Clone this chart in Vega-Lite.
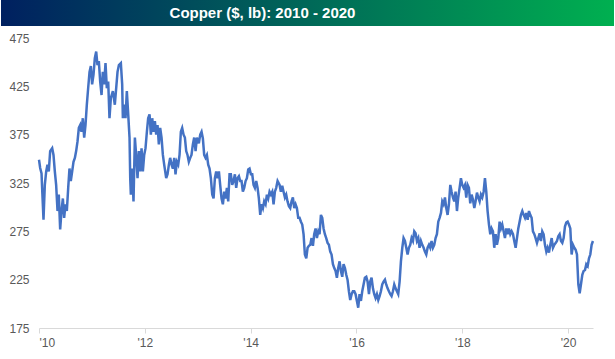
{
  "$schema": "https://vega.github.io/schema/vega-lite/v6.json",
  "background": "white",
  "padding": {"left": 1, "right": 1, "top": 0, "bottom": 0},
  "config": {"view": {"stroke": null}, "font": "Liberation Sans"},
  "spacing": 6,
  "vconcat": [
    {
      "width": 575,
      "height": 26,
      "data": {"values": [{"label": "Copper ($, lb): 2010 - 2020"}]},
      "layer": [
        {
          "mark": {"type": "rect", "color": {"gradient": "linear", "x1": 0, "x2": 1, "y1": 0, "y2": 0, "stops": [{"offset": 0, "color": "#002060"}, {"offset": 1, "color": "#00b050"}]}},
          "encoding": {"x": {"value": -38}, "x2": {"value": "width"}, "y": {"value": 0}, "y2": {"value": "height"}}
        },
        {
          "mark": {"type": "text", "color": "white", "fontWeight": "bold", "fontSize": 15, "font": "Liberation Sans", "baseline": "middle", "align": "center", "dx": -64},
          "encoding": {"text": {"field": "label"}, "y": {"value": 13}}
        }
      ]
    },
    {
      "width": 554,
      "height": 290,
      "data": {"values": [
        {"t":2010.000,"v":349},{"t":2010.022,"v":340.5},{"t":2010.048,"v":335},{"t":2010.059,"v":320},{"t":2010.085,"v":287},{"t":2010.110,"v":323},{"t":2010.136,"v":337},{"t":2010.160,"v":344},{"t":2010.185,"v":337},{"t":2010.211,"v":358},{"t":2010.249,"v":361},{"t":2010.274,"v":354},{"t":2010.299,"v":337},{"t":2010.324,"v":323},{"t":2010.350,"v":296},{"t":2010.374,"v":313},{"t":2010.400,"v":277},{"t":2010.425,"v":296},{"t":2010.451,"v":309},{"t":2010.475,"v":289},{"t":2010.501,"v":303},{"t":2010.526,"v":296},{"t":2010.552,"v":320},{"t":2010.576,"v":340},{"t":2010.601,"v":327},{"t":2010.627,"v":337},{"t":2010.652,"v":347},{"t":2010.678,"v":351},{"t":2010.702,"v":358},{"t":2010.728,"v":368},{"t":2010.753,"v":382},{"t":2010.779,"v":385},{"t":2010.803,"v":378},{"t":2010.828,"v":392},{"t":2010.854,"v":372},{"t":2010.879,"v":385},{"t":2010.904,"v":406},{"t":2010.929,"v":423},{"t":2010.955,"v":440},{"t":2010.980,"v":446},{"t":2011.004,"v":427},{"t":2011.030,"v":437},{"t":2011.055,"v":454},{"t":2011.081,"v":461},{"t":2011.105,"v":447},{"t":2011.131,"v":451},{"t":2011.156,"v":430},{"t":2011.182,"v":416},{"t":2011.206,"v":440},{"t":2011.231,"v":427},{"t":2011.257,"v":449},{"t":2011.282,"v":423},{"t":2011.308,"v":430},{"t":2011.332,"v":392},{"t":2011.358,"v":413},{"t":2011.396,"v":420},{"t":2011.433,"v":406},
        {"t":2011.484,"v":440},{"t":2011.510,"v":447},{"t":2011.547,"v":449},{"t":2011.572,"v":427},{"t":2011.585,"v":392},{"t":2011.610,"v":406},{"t":2011.635,"v":392},{"t":2011.660,"v":420},{"t":2011.686,"v":396},{"t":2011.711,"v":372},{"t":2011.724,"v":330},{"t":2011.736,"v":313},{"t":2011.761,"v":340},{"t":2011.786,"v":306},{"t":2011.812,"v":372},{"t":2011.836,"v":354},{"t":2011.862,"v":330},{"t":2011.887,"v":358},{"t":2011.913,"v":337},{"t":2011.938,"v":361},{"t":2011.963,"v":337},{"t":2011.988,"v":354},{"t":2012.013,"v":361},{"t":2012.039,"v":378},{"t":2012.063,"v":392},{"t":2012.089,"v":396},{"t":2012.114,"v":375},{"t":2012.140,"v":392},{"t":2012.164,"v":378},{"t":2012.190,"v":389},{"t":2012.215,"v":375},{"t":2012.240,"v":385},{"t":2012.265,"v":365},{"t":2012.290,"v":382},{"t":2012.316,"v":372},{"t":2012.341,"v":354},{"t":2012.366,"v":344},{"t":2012.404,"v":330},{"t":2012.429,"v":334},{"t":2012.455,"v":344},{"t":2012.479,"v":351},{"t":2012.505,"v":344},{"t":2012.530,"v":340},{"t":2012.556,"v":351},{"t":2012.580,"v":334},{"t":2012.605,"v":347},{"t":2012.631,"v":344},{"t":2012.656,"v":354},{"t":2012.681,"v":378},{"t":2012.706,"v":382},{"t":2012.732,"v":375},{"t":2012.757,"v":372},{"t":2012.782,"v":358},{"t":2012.807,"v":354},{"t":2012.832,"v":347},{"t":2012.858,"v":351},{"t":2012.882,"v":354},{"t":2012.908,"v":365},{"t":2012.933,"v":372},{"t":2012.959,"v":358},{"t":2012.984,"v":372},
        {"t":2013.021,"v":366},{"t":2013.047,"v":375},{"t":2013.072,"v":378},{"t":2013.097,"v":371},{"t":2013.122,"v":354},{"t":2013.147,"v":351},{"t":2013.173,"v":354},{"t":2013.198,"v":344},{"t":2013.223,"v":340},{"t":2013.248,"v":330},{"t":2013.274,"v":313},{"t":2013.299,"v":309},{"t":2013.324,"v":330},{"t":2013.349,"v":337},{"t":2013.374,"v":330},{"t":2013.400,"v":337},{"t":2013.424,"v":323},{"t":2013.450,"v":309},{"t":2013.475,"v":303},{"t":2013.501,"v":316},{"t":2013.525,"v":309},{"t":2013.551,"v":320},{"t":2013.576,"v":306},{"t":2013.601,"v":334},{"t":2013.626,"v":334},{"t":2013.651,"v":323},{"t":2013.677,"v":327},{"t":2013.702,"v":334},{"t":2013.727,"v":320},{"t":2013.752,"v":330},{"t":2013.778,"v":332},{"t":2013.803,"v":327},{"t":2013.828,"v":327},{"t":2013.853,"v":316},{"t":2013.878,"v":320},{"t":2013.904,"v":327},{"t":2013.929,"v":330},{"t":2013.954,"v":339},{"t":2013.979,"v":340},{"t":2014.005,"v":334},{"t":2014.030,"v":334},{"t":2014.055,"v":323},{"t":2014.080,"v":320},{"t":2014.105,"v":327},{"t":2014.131,"v":320},{"t":2014.155,"v":309},{"t":2014.181,"v":292},{"t":2014.206,"v":303},{"t":2014.232,"v":299},{"t":2014.256,"v":306},{"t":2014.282,"v":303},{"t":2014.307,"v":313},{"t":2014.332,"v":309},{"t":2014.357,"v":316},{"t":2014.382,"v":313},{"t":2014.408,"v":316},{"t":2014.433,"v":303},{"t":2014.458,"v":316},{"t":2014.483,"v":320},{"t":2014.509,"v":327},
        {"t":2014.547,"v":323},{"t":2014.571,"v":316},{"t":2014.597,"v":322},{"t":2014.622,"v":316},{"t":2014.648,"v":310},{"t":2014.672,"v":313},{"t":2014.697,"v":306},{"t":2014.723,"v":301},{"t":2014.748,"v":299},{"t":2014.773,"v":306},{"t":2014.798,"v":310},{"t":2014.824,"v":299},{"t":2014.849,"v":303},{"t":2014.874,"v":299},{"t":2014.899,"v":289},{"t":2014.924,"v":289},{"t":2014.950,"v":285},{"t":2014.975,"v":282},{"t":2015.000,"v":272},{"t":2015.025,"v":251},{"t":2015.051,"v":247},{"t":2015.076,"v":258},{"t":2015.101,"v":260},{"t":2015.126,"v":261},{"t":2015.151,"v":268},{"t":2015.177,"v":260},{"t":2015.201,"v":272},{"t":2015.227,"v":278},{"t":2015.252,"v":268},{"t":2015.278,"v":275},{"t":2015.302,"v":272},{"t":2015.328,"v":292},{"t":2015.353,"v":289},{"t":2015.378,"v":278},{"t":2015.403,"v":272},{"t":2015.428,"v":268},{"t":2015.454,"v":263},{"t":2015.479,"v":261},{"t":2015.504,"v":254},{"t":2015.529,"v":251},{"t":2015.555,"v":241},{"t":2015.580,"v":237},{"t":2015.605,"v":234},{"t":2015.630,"v":227},{"t":2015.655,"v":237},{"t":2015.681,"v":244},{"t":2015.706,"v":234},{"t":2015.731,"v":228},{"t":2015.756,"v":241},{"t":2015.782,"v":237},{"t":2015.807,"v":230},{"t":2015.831,"v":225},{"t":2015.857,"v":213},{"t":2015.882,"v":204},{"t":2015.908,"v":210},{"t":2015.932,"v":213},{"t":2015.958,"v":213},{"t":2015.983,"v":210},{"t":2016.008,"v":203},
        {"t":2016.033,"v":196},{"t":2016.058,"v":210},{"t":2016.084,"v":203},{"t":2016.109,"v":213},{"t":2016.134,"v":220},{"t":2016.159,"v":227},{"t":2016.185,"v":228},{"t":2016.210,"v":223},{"t":2016.236,"v":210},{"t":2016.260,"v":223},{"t":2016.285,"v":227},{"t":2016.311,"v":216},{"t":2016.336,"v":210},{"t":2016.361,"v":206},{"t":2016.386,"v":210},{"t":2016.412,"v":204},{"t":2016.437,"v":208},{"t":2016.462,"v":213},{"t":2016.487,"v":220},{"t":2016.512,"v":223},{"t":2016.538,"v":225},{"t":2016.562,"v":220},{"t":2016.588,"v":216},{"t":2016.613,"v":213},{"t":2016.639,"v":210},{"t":2016.663,"v":208},{"t":2016.689,"v":213},{"t":2016.714,"v":220},{"t":2016.739,"v":216},{"t":2016.764,"v":213},{"t":2016.789,"v":210},{"t":2016.815,"v":223},{"t":2016.840,"v":244},{"t":2016.866,"v":258},{"t":2016.890,"v":268},{"t":2016.916,"v":265},{"t":2016.941,"v":258},{"t":2016.966,"v":251},{"t":2016.991,"v":258},{"t":2017.016,"v":261},{"t":2017.042,"v":268},{"t":2017.067,"v":265},{"t":2017.092,"v":275},{"t":2017.117,"v":273},{"t":2017.143,"v":265},{"t":2017.168,"v":268},{"t":2017.192,"v":258},{"t":2017.218,"v":265},{"t":2017.243,"v":261},{"t":2017.269,"v":258},{"t":2017.293,"v":254},{"t":2017.319,"v":251},{"t":2017.344,"v":258},{"t":2017.370,"v":261},{"t":2017.394,"v":258},{"t":2017.419,"v":265},{"t":2017.445,"v":258},{"t":2017.470,"v":261},{"t":2017.495,"v":268},{"t":2017.520,"v":272},
        {"t":2017.546,"v":285},{"t":2017.571,"v":289},{"t":2017.597,"v":294},{"t":2017.621,"v":306},{"t":2017.646,"v":303},{"t":2017.672,"v":310},{"t":2017.697,"v":299},{"t":2017.722,"v":292},{"t":2017.747,"v":303},{"t":2017.773,"v":323},{"t":2017.798,"v":316},{"t":2017.823,"v":310},{"t":2017.848,"v":306},{"t":2017.873,"v":316},{"t":2017.899,"v":296},{"t":2017.923,"v":310},{"t":2017.949,"v":320},{"t":2017.974,"v":330},{"t":2017.999,"v":323},{"t":2018.024,"v":320},{"t":2018.050,"v":323},{"t":2018.075,"v":310},{"t":2018.100,"v":323},{"t":2018.125,"v":320},{"t":2018.150,"v":304},{"t":2018.176,"v":313},{"t":2018.201,"v":308},{"t":2018.227,"v":299},{"t":2018.251,"v":306},{"t":2018.277,"v":315},{"t":2018.302,"v":310},{"t":2018.327,"v":306},{"t":2018.352,"v":313},{"t":2018.377,"v":310},{"t":2018.403,"v":316},{"t":2018.428,"v":330},{"t":2018.453,"v":316},{"t":2018.478,"v":296},{"t":2018.504,"v":282},{"t":2018.529,"v":272},{"t":2018.553,"v":278},{"t":2018.579,"v":275},{"t":2018.604,"v":258},{"t":2018.630,"v":272},{"t":2018.654,"v":261},{"t":2018.680,"v":268},{"t":2018.705,"v":285},{"t":2018.731,"v":278},{"t":2018.755,"v":282},{"t":2018.781,"v":275},{"t":2018.806,"v":268},{"t":2018.831,"v":278},{"t":2018.856,"v":272},{"t":2018.881,"v":278},{"t":2018.907,"v":272},{"t":2018.932,"v":275},{"t":2018.958,"v":272},{"t":2018.982,"v":265},{"t":2019.008,"v":258},{"t":2019.033,"v":268},
        {"t":2019.058,"v":278},{"t":2019.083,"v":285},{"t":2019.108,"v":292},{"t":2019.134,"v":296},{"t":2019.159,"v":292},{"t":2019.184,"v":289},{"t":2019.209,"v":294},{"t":2019.235,"v":287},{"t":2019.260,"v":296},{"t":2019.284,"v":292},{"t":2019.310,"v":289},{"t":2019.335,"v":275},{"t":2019.361,"v":272},{"t":2019.385,"v":268},{"t":2019.411,"v":263},{"t":2019.436,"v":268},{"t":2019.462,"v":273},{"t":2019.486,"v":265},{"t":2019.511,"v":275},{"t":2019.537,"v":272},{"t":2019.562,"v":261},{"t":2019.588,"v":254},{"t":2019.612,"v":258},{"t":2019.638,"v":253},{"t":2019.663,"v":261},{"t":2019.689,"v":268},{"t":2019.713,"v":258},{"t":2019.738,"v":261},{"t":2019.764,"v":263},{"t":2019.789,"v":265},{"t":2019.814,"v":270},{"t":2019.839,"v":272},{"t":2019.865,"v":265},{"t":2019.890,"v":263},{"t":2019.915,"v":268},{"t":2019.940,"v":280},{"t":2019.965,"v":284},{"t":2019.991,"v":285},{"t":2020.015,"v":282},{"t":2020.041,"v":278},{"t":2020.066,"v":251},{"t":2020.092,"v":261},{"t":2020.117,"v":258},{"t":2020.142,"v":256},{"t":2020.167,"v":251},{"t":2020.193,"v":220},{"t":2020.218,"v":211},{"t":2020.242,"v":220},{"t":2020.268,"v":230},{"t":2020.293,"v":234},{"t":2020.319,"v":235},{"t":2020.343,"v":241},{"t":2020.369,"v":239},{"t":2020.394,"v":247},{"t":2020.419,"v":251},{"t":2020.444,"v":261},{"t":2020.469,"v":265}
      ]},
      "mark": {"type": "line", "color": "#4472c4", "strokeWidth": 2.5, "interpolate": "linear"},
      "encoding": {
        "x": {"field": "t", "type": "quantitative",
              "scale": {"domain": [2010, 2020.47], "nice": false, "zero": false},
              "axis": {"title": null, "values": [2010, 2012, 2014, 2016, 2018, 2020],
                       "labelExpr": "\"'\" + slice(toString(datum.value), 2)",
                       "grid": false, "domainColor": "#d9d9d9", "tickColor": "#d9d9d9", "tickSize": 5,
                       "labelColor": "#595959", "labelFontSize": 12, "labelPadding": 4, "labelFont": "Liberation Sans"}},
        "y": {"field": "v", "type": "quantitative",
              "scale": {"domain": [175, 475], "nice": false, "zero": false},
              "axis": {"title": null, "values": [175, 225, 275, 325, 375, 425, 475],
                       "grid": false, "domain": false, "ticks": false,
                       "labelColor": "#595959", "labelFontSize": 12, "labelPadding": 10, "minExtent": 38, "labelFont": "Liberation Sans"}}
      }
    }
  ]
}
